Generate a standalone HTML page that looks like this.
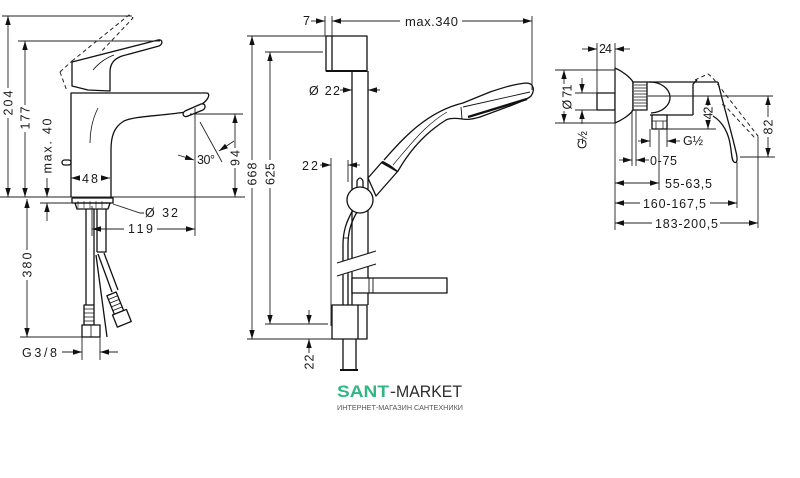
<!DOCTYPE html>
<html><head><meta charset="utf-8"><style>
html,body{margin:0;padding:0;background:#fff;}
svg{display:block;}
text{font-family:"Liberation Sans","DejaVu Sans",sans-serif;fill:#1a1a1a;font-size:12.5px;}
</style></head><body>
<svg width="800" height="478" viewBox="0 0 800 478" xmlns="http://www.w3.org/2000/svg">
<defs>
<marker id="a" viewBox="0 0 10 6" refX="10" refY="3" markerWidth="9" markerHeight="6" markerUnits="userSpaceOnUse" orient="auto"><path d="M0,0L10,3L0,6z" fill="#111"/></marker>
</defs>
<rect width="800" height="478" fill="#fff"/>

<!-- ===== LEFT: basin mixer outlines ===== -->
<g fill="none" stroke="#111" stroke-width="1.3" stroke-linejoin="round">
<path d="M71,197V93H207C211,94 208,101 199,106L186,112C160,116 135,116 124,121C114,127 111,136 111,150V197" fill="#fff"/>
<path d="M185,111L201,104C206,103 206,108 203,110L188,116C184,118 181,114 185,111Z" fill="#fff"/>
<path d="M72,62L158,40C163,39 163,44 159,46L122,56C113,59 110,65 110,72V91L88,90L72,86Z" fill="#fff"/>
<rect x="62" y="160" width="9" height="5" rx="2.5" fill="#fff"/>
<rect x="72" y="198" width="41" height="5" fill="#fff"/>
<path d="M75,203H110L108,209H77Z"/>
<path d="M86,209V305M94,209V305M97,209V252M106,209V252H97M98,254L112,292M104,253L118,290M96,255L107,337"/>
<rect x="84" y="305" width="10" height="20"/>
<path d="M84,309H94M84,313H94M84,317H94M84,321H94" stroke-width="0.8"/>
<rect x="82" y="325" width="18" height="12" fill="#fff"/>
<path d="M91,325V337" stroke-width="0.8"/>
<g transform="rotate(-22 116 305)">
<rect x="111" y="293" width="10" height="20"/>
<path d="M111,297H121M111,301H121M111,305H121M111,309H121" stroke-width="0.8"/>
<rect x="109" y="313" width="15" height="13" fill="#fff"/>
</g>
</g>
<g fill="none" stroke="#111" stroke-width="0.8">
<path d="M98,108C93,118 90,130 90,143"/>
<path d="M93,70C100,62 106,58 114,55"/>
<path d="M78,201V208M84,201V208M90,201V208M96,201V208M102,201V208" stroke-width="0.6"/>
</g>
<g fill="none" stroke="#222" stroke-width="1" stroke-dasharray="4,3">
<path d="M60,72L72,61M60,72L67,91M72,61L129,15L133,18L100,53"/>
</g>

<!-- ===== MIDDLE: shower set outlines ===== -->
<g fill="none" stroke="#111" stroke-width="1.3" stroke-linejoin="round">
<path d="M352,71V305M368,71V305"/>
<path d="M353,210C346,222 343,232 343,245V305M357,212C350,224 348,234 348,245V305"/>
<path d="M343,238H348" stroke-width="0.8"/>
<rect x="326" y="36" width="41" height="35" fill="#fff"/>
<path d="M332,36V71"/>
<path d="M326,71H367" stroke-width="2"/>
<path d="M357,189V181Q360,175 363,181V189" fill="#fff"/>
<circle cx="360" cy="200" r="13" fill="#fff"/>
<path d="M368,178L382,162L398,171L376,196Z" fill="#fff"/>
<path d="M382,162L398,171" stroke-width="3"/>
<path d="M384,160C400,142 425,112 463,103L490,92C505,87 515,84 526,83C534,83 535,90 531,96C528,99 520,102 510,106L480,117C473,119 468,120 462,119C455,118 450,118 446,120C425,133 410,150 398,171" fill="#fff"/>
<path d="M462,119L461,107M463,107L530,92" stroke-width="0.9"/>
<path d="M468,117L527,99" stroke-width="2.4"/>
<path d="M393,165C410,145 425,125 447,112" stroke-width="0.7"/>
<rect x="352" y="278" width="95" height="15" fill="#fff"/>
<path d="M369,278V293M373,278V293" stroke-width="0.9"/>
<path d="M336,263L377,251L377,264L336,277Z" fill="#fff" stroke="none"/>
<path d="M337,263L376,251M337,276L376,264" stroke-width="1.1"/>
<rect x="332" y="305" width="35" height="34" fill="#fff"/>
<path d="M358,305V339"/>
<path d="M343,339V369M356,339V369"/>
<path d="M340,370H358" stroke-width="2"/>
</g>

<!-- ===== RIGHT: shower mixer outlines ===== -->
<g fill="none" stroke="#111" stroke-width="1.3" stroke-linejoin="round">
<rect x="597" y="93" width="18" height="17" fill="#fff"/>
<path d="M615,68C622,71 630,77 633,82V110C630,115 622,120 615,123Z" fill="#fff"/>
<path d="M647,82H718M650,115H693M693,84V115"/>
<path d="M649,82A20,15.5 0 0 1 651,113"/>
<rect x="633" y="82" width="14" height="28" fill="#fff"/>
<path d="M634,85H647M634,88H647M634,91H647M634,94H647M634,97H647M634,100H647M634,103H647M634,106H647" stroke-width="0.7"/>
<rect x="652" y="115" width="15" height="14" fill="#fff"/>
<path d="M652,121H667M656,121V129M663,121V129" stroke-width="0.7"/>
<path d="M718,82C723,104 731,130 736,152C738,160 737,164 734,162C731,160 732,150 729,139C726,128 721,121 713,116"/>
<path d="M693,84L697,80"/>
</g>
<g fill="none" stroke="#222" stroke-width="1" stroke-dasharray="4,3">
<path d="M695,80L708,74L712,77L758,136L754,137L727,108C725,105 722,104 720,105"/>
</g>

<!-- ===== DIMENSIONS (on top) ===== -->
<g fill="none" stroke="#222" stroke-width="0.9">
<path d="M2,16H132M18,41H160M0,197H245M40,203H72M190,114H243M195,108V236M92,206V236M20,337H82M82,337V360M100,337V360"/>
<path d="M200,122L222,162"/>
<path d="M113,204L140,213H144"/>
<path d="M325,16V36M332,16V36M532,16V90M247,36H326M265,52H323M265,324H328M247,339H332M331,158V326M348,160V182M340,90H352M368,90H380"/>
<path d="M597,43V93M615,43V230M555,70H615M555,123H615M575,93H597M575,110H597M648,96H773M667,129H716M740,157H775M650,129V147M667,129V147M659,130V190M632,110V166M636,110V166M737,162V208M758,137V228"/>
</g>
<g fill="none" stroke="#222" stroke-width="0.9" marker-end="url(#a)">
<path d="M8,88V16"/><path d="M8,118V197"/>
<path d="M25,105V41"/><path d="M25,132V197"/>
<path d="M47,178V197"/><path d="M47,221V203"/>
<path d="M235,148V114"/><path d="M235,168V197"/>
<path d="M27,250V199"/><path d="M27,280V337"/>
<path d="M62,352H82"/><path d="M118,352H100"/>
<path d="M124,229H92"/><path d="M157,229H195"/>
<path d="M78,178H71"/><path d="M102,178H110"/>
<path d="M178,155L194,160"/><path d="M234,141L219,151"/>

<path d="M311,21H325"/><path d="M400,21H332"/><path d="M462,21H532"/>
<path d="M252,160V36"/><path d="M252,188V339"/>
<path d="M270,160V52"/><path d="M270,188V324"/>
<path d="M341,90H352"/><path d="M380,90H368"/>
<path d="M320,165H331"/><path d="M360,165H348"/>
<path d="M309,310V324"/><path d="M309,353V339"/>

<path d="M582,49H597"/><path d="M630,49H615"/>
<path d="M564,84V70"/><path d="M564,111V123"/>
<path d="M582,78V93"/><path d="M582,124V110"/>
<path d="M708,106V96"/><path d="M708,120V129"/>
<path d="M768,117V96"/><path d="M768,137V157"/>
<path d="M638,141H650"/><path d="M680,141H667"/>
<path d="M619,160H632"/><path d="M649,160H636"/>
<path d="M637,183H615"/><path d="M637,183H659"/>
<path d="M640,203H615"/><path d="M710,203H737"/>
<path d="M652,223H615"/><path d="M720,223H758"/>
</g>

<!-- ===== LABELS ===== -->
<g>
<text transform="translate(8,103) rotate(-90)" text-anchor="middle" y="4.5" textLength="25">204</text>
<text transform="translate(25,118) rotate(-90)" text-anchor="middle" y="4.5" textLength="23">177</text>
<text transform="translate(47,146) rotate(-90)" text-anchor="middle" y="4.5" textLength="55">max. 40</text>
<text transform="translate(235,158) rotate(-90)" text-anchor="middle" y="4.5" textLength="16">94</text>
<text transform="translate(27,265) rotate(-90)" text-anchor="middle" y="4.5" textLength="25">380</text>
<text x="82" y="183" textLength="16">48</text>
<text x="145" y="217" textLength="33">Ø 32</text>
<text x="128" y="233" textLength="25">119</text>
<text x="22" y="357" textLength="35">G3/8</text>
<text x="197" y="164" textLength="18">30°</text>

<text x="303" y="25" textLength="7">7</text>
<text x="405" y="26" textLength="53" style="font-size:13px">max.340</text>
<text x="309" y="95" textLength="31">Ø 22</text>
<text x="302" y="170" textLength="16">22</text>
<text transform="translate(252,174) rotate(-90)" text-anchor="middle" y="4.5" textLength="23">668</text>
<text transform="translate(270,174) rotate(-90)" text-anchor="middle" y="4.5" textLength="22">625</text>
<text transform="translate(309,362) rotate(-90)" text-anchor="middle" y="4.5" textLength="15">22</text>

<text x="599" y="53" textLength="13">24</text>
<text transform="translate(567,97) rotate(-90)" text-anchor="middle" y="4.5" textLength="25">Ø 71</text>
<text transform="translate(582,140) rotate(-90)" text-anchor="middle" y="4.5" textLength="18">G½</text>
<text transform="translate(708,113) rotate(-90)" text-anchor="middle" y="4.5" textLength="13">42</text>
<text transform="translate(768,127) rotate(-90)" text-anchor="middle" y="4.5" textLength="15">82</text>
<text x="683" y="145" textLength="20">G½</text>
<text x="650" y="165" textLength="27">0-75</text>
<text x="665" y="188" textLength="47">55-63,5</text>
<text x="643" y="208" textLength="63">160-167,5</text>
<text x="655" y="228" textLength="63">183-200,5</text>
</g>

<!-- ===== LOGO ===== -->
<g>
<text x="337" y="397" textLength="52" lengthAdjust="spacingAndGlyphs" style="font-size:16.5px;font-weight:bold;fill:#33b584">SANT</text>
<text x="390" y="397" textLength="6" lengthAdjust="spacingAndGlyphs" style="font-size:16.5px;fill:#2b2b2b">-</text>
<text x="396" y="397" textLength="66" lengthAdjust="spacingAndGlyphs" style="font-size:16.5px;fill:#2b2b2b">MARKET</text>
<text x="337" y="410" textLength="126" lengthAdjust="spacingAndGlyphs" style="font-size:7.5px;fill:#555">ИНТЕРНЕТ-МАГАЗИН САНТЕХНИКИ</text>
</g>
</svg>
</body></html>
